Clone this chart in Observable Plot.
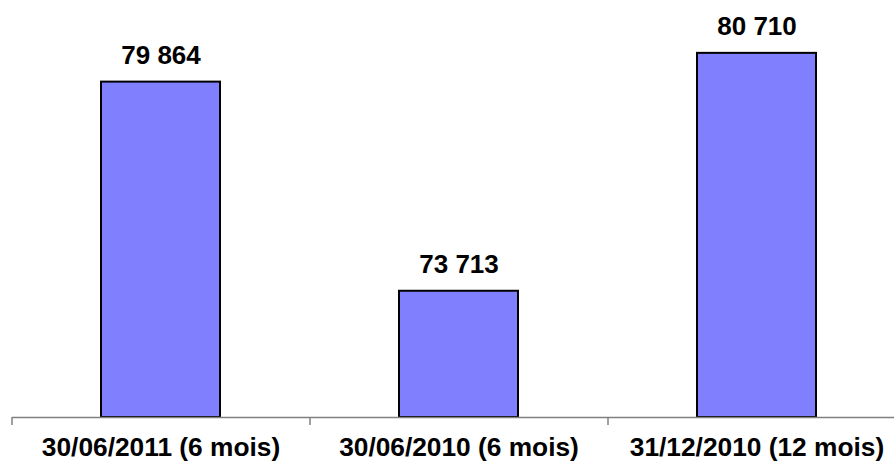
<!DOCTYPE html>
<html>
<head>
<meta charset="utf-8">
<script src="https://cdn.jsdelivr.net/npm/d3@7"></script>
<script src="https://cdn.jsdelivr.net/npm/@observablehq/plot@0.6"></script>
<style>
  html, body { margin: 0; padding: 0; background: #fff; }
  #chart svg { display: block; overflow: visible; }
</style>
</head>
<body>
<div id="chart"></div>
<script>
const categories = ["30/06/2011 (6 mois)", "30/06/2010 (6 mois)", "31/12/2010 (12 mois)"];
const values = [79864, 73713, 80710];
const valueLabels = ["79 864", "73 713", "80 710"];
const yDomain = [70000, 82000];

const W = 894, H = 468;
const mL = 12, mR = -12;
const step = (W - mL - mR) / categories.length;
const rows = categories.map((c, i) => ({cat: c, value: values[i], label: valueLabels[i]}));

const chart = Plot.plot({
  width: W,
  height: H,
  marginLeft: mL,
  marginRight: mR,
  marginTop: 9,
  marginBottom: 51,
  style: {fontFamily: "'Liberation Sans', Arial, sans-serif", background: "#fff", overflow: "visible"},
  x: {domain: categories, paddingInner: 0.6, paddingOuter: 0.3, axis: null},
  y: {domain: yDomain, axis: null},
  marks: [
    Plot.barY(rows, {x: "cat", y1: yDomain[0], y2: "value", fill: "#8080FF", stroke: "#000", strokeWidth: 2}),
    Plot.ruleY([yDomain[0]], {stroke: "#808080", strokeWidth: 1.5}),
    Plot.ruleX(categories, {x: d => d, dx: -step / 2, y1: yDomain[0], y2: yDomain[0], insetBottom: -8, stroke: "#808080", strokeWidth: 1.5}),
    Plot.text(rows, {x: "cat", y: "value", text: "label", dy: -18, lineAnchor: "bottom", fontSize: 26, fontWeight: "bold", fill: "#000"}),
    Plot.text(rows, {x: "cat", frameAnchor: "bottom", text: "cat", dy: 30, lineAnchor: "middle", fontSize: 26.3, fontWeight: "bold", fill: "#000"})
  ]
});
document.getElementById("chart").appendChild(chart);
</script>
</body>
</html>
